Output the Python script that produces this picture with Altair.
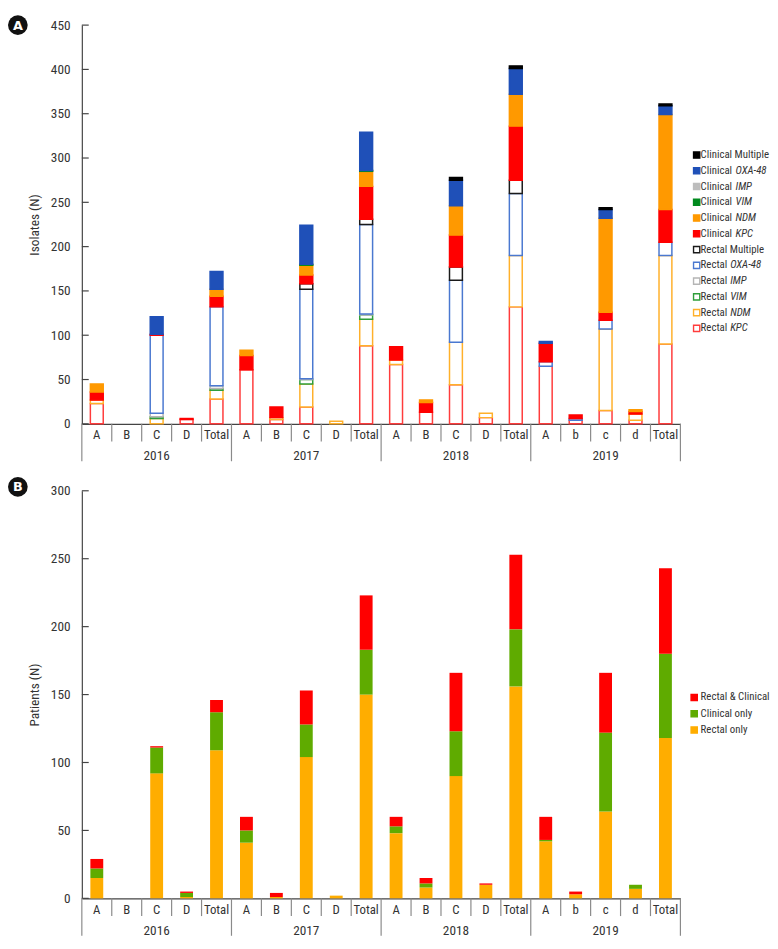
import altair as alt
import pandas as pd

FONT = "Roboto Condensed, Liberation Sans, sans-serif"
TXT = "#333333"
AX = "#444444"
SEP = "#8a8a8a"

years = ["2016", "2017", "2018", "2019"]
sites = {
    "2016": ["A", "B", "C", "D", "Total"],
    "2017": ["A", "B", "C", "D", "Total"],
    "2018": ["A", "B", "C", "D", "Total"],
    "2019": ["A", "b", "c", "d", "Total"],
}
keys = [f"{y}|{s}" for y in years for s in sites[y]]

# ---------------- Panel A : isolates ----------------
series_a = ["Rectal KPC", "Rectal NDM", "Rectal VIM", "Rectal IMP", "Rectal OXA-48", "Rectal Multiple",
            "Clinical KPC", "Clinical NDM", "Clinical VIM", "Clinical IMP", "Clinical OXA-48", "Clinical Multiple"]
rectal_kpc = [23, 0, 0, 5, 28, 61, 5, 19, 0, 88, 67, 13, 44, 7, 132, 65, 4, 15, 4, 90]
rectal_ndm = [4, 0, 6, 0, 10, 0, 2, 26, 3, 30, 5, 0, 48, 5, 58, 0, 0, 92, 7, 100]
rectal_vim = [0, 0, 2, 0, 2, 0, 0, 5, 0, 5, 0, 0, 0, 0, 0, 0, 0, 0, 0, 0]
rectal_imp = [0, 0, 4, 0, 3, 0, 0, 1, 0, 1, 0, 0, 0, 0, 0, 0, 0, 0, 0, 0]
rectal_oxa = [0, 0, 88, 0, 89, 0, 0, 101, 0, 101, 0, 0, 70, 0, 70, 5, 2, 10, 0, 15]
rectal_mult = [0, 0, 0, 0, 0, 0, 0, 6, 0, 6, 0, 0, 15, 0, 15, 0, 0, 0, 0, 0]
clin_kpc = [9, 0, 1, 1, 12, 16, 12, 10, 0, 37, 15, 11, 36, 0, 61, 21, 4, 9, 3, 37]
clin_ndm = [9, 0, 0, 0, 8, 6, 0, 11, 0, 17, 0, 3, 33, 0, 36, 0, 0, 106, 2, 107]
clin_vim = [0, 0, 0, 0, 0, 0, 0, 1, 0, 1, 0, 0, 0, 0, 0, 0, 0, 0, 0, 0]
clin_imp = [0, 0, 0, 0, 0, 0, 0, 0, 0, 0, 0, 0, 0, 0, 0, 0, 0, 0, 0, 0]
clin_oxa = [0, 0, 20, 0, 20, 0, 0, 44, 0, 43, 0, 0, 29, 0, 29, 2, 0, 10, 0, 10]
clin_mult = [0, 0, 0, 0, 0, 0, 0, 0, 0, 0, 0, 0, 3, 0, 3, 0, 0, 2, 0, 2]
values_a = [rectal_kpc, rectal_ndm, rectal_vim, rectal_imp, rectal_oxa, rectal_mult,
            clin_kpc, clin_ndm, clin_vim, clin_imp, clin_oxa, clin_mult]
fills_a = ["#ffffff"] * 6 + ["#ff0000", "#ff9900", "#008a1e", "#bdbdbd", "#1f50b8", "#000000"]
strokes_a = ["#ff3c3c", "#ffb02a", "#2e9e3a", "#b5b5b5", "#4a78d0", "#1a1a1a",
             "#ff0000", "#ff9900", "#008a1e", "#bdbdbd", "#1f50b8", "#000000"]

# ---------------- Panel B : patients ----------------
series_b = ["Rectal only", "Clinical only", "Rectal & Clinical"]
rectal_only = [15, 0, 92, 1, 109, 41, 1, 104, 2, 150, 48, 8, 90, 10, 156, 42, 3, 64, 7, 118]
clinical_only = [7, 0, 19, 3, 28, 9, 0, 24, 0, 33, 5, 3, 33, 0, 42, 1, 0, 58, 3, 62]
rectal_clinical = [7, 0, 1, 1, 9, 10, 3, 25, 0, 40, 7, 4, 43, 1, 55, 17, 2, 44, 0, 63]
values_b = [rectal_only, clinical_only, rectal_clinical]
fills_b = ["#ffad00", "#5fab00", "#ff0000"]

W = 608


def long_df(series, values):
    rows = []
    for o, (s, vals) in enumerate(zip(series, values)):
        for k, v in zip(keys, vals):
            if v > 0:
                rows.append({"key": k, "series": s, "value": v, "ord": o})
    return pd.DataFrame(rows)


def panel(series, values, fills, strokes, ymax, ytitle, H, legend_order, leg_top, leg_step, leg_x, badge,
          stroke_w):
    df = long_df(series, values)
    xs = alt.Scale(domain=keys, paddingInner=0, paddingOuter=0)
    fs = alt.Scale(domain=series, range=fills)
    ss = alt.Scale(domain=series, range=strokes)
    ys = alt.Scale(domain=[0, ymax], nice=False)
    yticks = list(range(0, ymax + 1, 50))
    x_axis = alt.Axis(labelExpr="split(datum.label, '|')[1]", ticks=False, tickSize=0,
                      labelAngle=0, labelPadding=5, labelFontSize=13, labelColor=TXT,
                      domainColor=AX, domainWidth=1.2, grid=False, title=None)
    y_axis = alt.Axis(values=yticks, ticks=False, tickSize=0, labelPadding=12, labelFontSize=13.5,
                      labelColor=TXT, domainColor=AX, domainWidth=1.2, titleFontSize=13.5,
                      titleFontWeight="normal", titleColor=TXT, titlePadding=9, grid=False,
                      title=ytitle)

    def X(**kw):
        return alt.X("key:N", sort=keys, scale=xs, axis=x_axis, **kw)

    bars = alt.Chart(df).mark_bar(width={"band": 0.43}, strokeWidth=stroke_w).encode(
        x=X(),
        y=alt.Y("value:Q", stack="zero", scale=ys, axis=y_axis),
        fill=alt.Fill("series:N", scale=fs, legend=None),
        stroke=alt.Stroke("series:N", scale=ss, legend=None),
        order=alt.Order("ord:Q", sort="ascending"),
    )

    tick_rules = alt.Chart(pd.DataFrame({"value": yticks})).mark_rule(color=AX, strokeWidth=1.2).encode(
        x=alt.value(0), x2=alt.value(7), y=alt.Y("value:Q", scale=ys, axis=y_axis))

    sep_df = pd.DataFrame({"key": keys, "kind": ["long" if k.split("|")[1] == "A" else "short" for k in keys]})
    short_sep = alt.Chart(sep_df).transform_filter("datum.kind == 'short'").mark_rule(
        color=SEP, strokeWidth=1.2).encode(x=X(bandPosition=0), y=alt.value(H), y2=alt.value(H + 18))
    long_sep = alt.Chart(sep_df).transform_filter("datum.kind == 'long'").mark_rule(
        color=SEP, strokeWidth=1.2).encode(x=X(bandPosition=0), y=alt.value(H), y2=alt.value(H + 38))
    end_sep = alt.Chart(pd.DataFrame({"key": [keys[-1]]})).mark_rule(
        color=SEP, strokeWidth=1.2).encode(x=X(bandPosition=1), y=alt.value(H), y2=alt.value(H + 38))

    ydf = pd.DataFrame({"key": [f"{y}|{sites[y][2]}" for y in years], "year": years})
    year_txt = alt.Chart(ydf).mark_text(fontSize=13.5, color=TXT, baseline="middle").encode(
        x=X(), y=alt.value(H + 33), text="year:N")

    badge_c = alt.Chart(pd.DataFrame({"t": [badge[0]]})).mark_circle(size=400, color="#111111", opacity=1).encode(
        x=alt.value(-65), y=alt.value(badge[1]))
    badge_t = alt.Chart(pd.DataFrame({"t": [badge[0]]})).mark_text(
        fontSize=13, fontWeight="bold", color="white", baseline="middle", font="DejaVu Sans").encode(
        x=alt.value(-65), y=alt.value(badge[1] + 0.5), text="t:N")

    # legend (drawn manually so that gene names can be italic)
    lrows = []
    for i, s in enumerate(legend_order):
        parts = s.split(" ", 1)
        if len(parts) == 2 and parts[1] in ("KPC", "NDM", "VIM", "IMP", "OXA-48"):
            pre, gene = parts[0], parts[1]
        else:
            pre, gene = s, ""
        lrows.append({"series": s, "idx": i, "pre": pre, "gene": gene, "grp": parts[0]})
    ldf = pd.DataFrame(lrows)
    d0 = -leg_top / leg_step
    ly = alt.Y("idx:Q", scale=alt.Scale(domain=[d0, d0 + H / leg_step], nice=False, zero=False, reverse=True),
               axis=None)
    lsq = alt.Chart(ldf).mark_square(size=40, strokeWidth=1.4, opacity=1).encode(
        x=alt.value(leg_x), y=ly,
        fill=alt.Fill("series:N", scale=fs, legend=None),
        stroke=alt.Stroke("series:N", scale=ss, legend=None))
    lpre = alt.Chart(ldf).mark_text(align="left", baseline="middle", fontSize=11, color=TXT).encode(
        x=alt.value(628.5), y=ly, text="pre:N")
    lgc = alt.Chart(ldf).transform_filter("datum.gene != '' && datum.grp == 'Clinical'").mark_text(
        align="left", baseline="middle", fontSize=11, color=TXT, fontStyle="italic").encode(
        x=alt.value(664), y=ly, text="gene:N")
    lgr = alt.Chart(ldf).transform_filter("datum.gene != '' && datum.grp == 'Rectal'").mark_text(
        align="left", baseline="middle", fontSize=11, color=TXT, fontStyle="italic").encode(
        x=alt.value(658.5), y=ly, text="gene:N")

    main = alt.layer(bars, tick_rules, short_sep, long_sep, end_sep, year_txt, badge_c, badge_t)
    leg = alt.layer(lsq, lpre, lgc, lgr)
    return alt.layer(main, leg).resolve_scale(y="independent").properties(width=W, height=H)


legend_a = ["Clinical Multiple", "Clinical OXA-48", "Clinical IMP", "Clinical VIM", "Clinical NDM", "Clinical KPC",
            "Rectal Multiple", "Rectal OXA-48", "Rectal IMP", "Rectal VIM", "Rectal NDM", "Rectal KPC"]
legend_b = ["Rectal & Clinical", "Clinical only", "Rectal only"]

chart_a = panel(series_a, values_a, fills_a, strokes_a, 450, "Isolates (N)", 405, legend_a, 132, 16, 624.5,
                ("A", 0), 1.5)
chart_b = panel(series_b, values_b, fills_b, fills_b, 300, "Patients (N)", 414, legend_b, 210, 16.5, 622,
                ("B", -4), 0)

chart = alt.vconcat(chart_a, chart_b, spacing=14).resolve_scale(
    fill="independent", stroke="independent").properties(padding=0).configure_view(
    strokeWidth=0).configure_axis(labelFont=FONT, titleFont=FONT).configure_text(font=FONT)

chart.save("out.html", embed_options={"renderer": "svg", "actions": False})
